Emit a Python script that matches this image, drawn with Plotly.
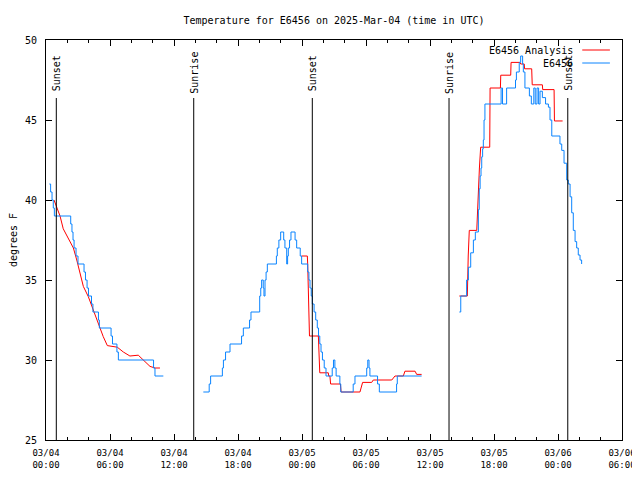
import plotly.graph_objects as go

YEAR = "2025-"

# ---- Observations (E6456), step data, three segments ----
obs_seg1_times = ["03-04 00:19", "03-04 00:26", "03-04 00:34", "03-04 00:41", "03-04 00:47", "03-04 02:19",
                  "03-04 02:26", "03-04 02:32", "03-04 02:38", "03-04 02:49", "03-04 03:00", "03-04 03:34",
                  "03-04 03:42", "03-04 03:51", "03-04 03:59", "03-04 04:16", "03-04 04:24", "03-04 04:55",
                  "03-04 05:00", "03-04 06:06", "03-04 06:14", "03-04 06:39", "03-04 06:47", "03-04 10:05",
                  "03-04 10:13", "03-04 11:00"]
obs_seg1_temps = [41, 40.5, 40, 39.5, 39, 38.5, 38, 37.5, 37, 36.5, 36, 35.5, 35, 34.5, 34, 33.5, 33, 32.5,
                  32, 31.5, 31, 30.5, 30, 29.5, 29, 29]

obs_seg2_times = ["03-04 14:45", "03-04 15:18", "03-04 15:26", "03-04 16:32", "03-04 16:38", "03-04 16:50",
                  "03-04 17:15", "03-04 18:20", "03-04 18:30", "03-04 19:05", "03-04 19:13", "03-04 20:02",
                  "03-04 20:08", "03-04 20:13", "03-04 20:22", "03-04 20:26", "03-04 20:32", "03-04 20:38",
                  "03-04 20:45", "03-04 21:36", "03-04 21:41", "03-04 21:50", "03-04 22:00", "03-04 22:17",
                  "03-04 22:24", "03-04 22:34", "03-04 22:39", "03-04 22:43", "03-04 22:50", "03-04 22:58",
                  "03-04 23:21", "03-04 23:30", "03-04 23:50", "03-04 23:58", "03-05 00:32", "03-05 00:39",
                  "03-05 00:45", "03-05 00:52", "03-05 00:58", "03-05 01:08", "03-05 01:17", "03-05 01:26",
                  "03-05 01:33", "03-05 01:40", "03-05 01:47", "03-05 01:55", "03-05 02:05", "03-05 02:15",
                  "03-05 02:50", "03-05 02:57", "03-05 03:05", "03-05 03:12", "03-05 03:33", "03-05 03:38",
                  "03-05 04:48", "03-05 04:58", "03-05 06:04", "03-05 06:10", "03-05 06:17", "03-05 06:22",
                  "03-05 07:05", "03-05 07:15", "03-05 08:52", "03-05 08:56", "03-05 11:13"]
obs_seg2_temps = [28, 28.5, 29, 29.5, 30, 30.5, 31, 31.5, 32, 32.5, 33, 34, 34.5, 35, 34.5, 34, 35, 35.5,
                  36, 36.5, 37, 37.5, 38, 37.5, 37, 36, 36.5, 37, 37.5, 38, 37.5, 37, 36.5, 36, 35.5, 35,
                  34.5, 34, 33.5, 33, 32.5, 32, 31.5, 31, 30.5, 30, 29.5, 29, 29.5, 30, 29.5, 29, 28.5, 28,
                  28.5, 29, 29.5, 30, 29.5, 29, 28.5, 28, 28.5, 29, 29]

obs_seg3_times = ["03-05 14:45", "03-05 14:53", "03-05 15:26", "03-05 15:36", "03-05 15:49", "03-05 16:04",
                  "03-05 16:15", "03-05 16:32", "03-05 16:37", "03-05 16:42", "03-05 16:47", "03-05 16:51",
                  "03-05 16:56", "03-05 17:00", "03-05 17:04", "03-05 17:09", "03-05 18:40", "03-05 18:48",
                  "03-05 19:11", "03-05 20:01", "03-05 20:06", "03-05 20:22", "03-05 20:30", "03-05 20:41",
                  "03-05 20:45", "03-05 20:54", "03-05 21:19", "03-05 21:30", "03-05 21:44", "03-05 21:52",
                  "03-05 22:02", "03-05 22:11", "03-05 22:19", "03-05 22:32", "03-05 22:50", "03-05 23:06",
                  "03-05 23:15", "03-05 23:25", "03-06 00:11", "03-06 00:21", "03-06 00:34", "03-06 00:49",
                  "03-06 00:58", "03-06 01:08", "03-06 01:17", "03-06 01:26", "03-06 01:36", "03-06 01:45",
                  "03-06 01:54", "03-06 02:04", "03-06 02:13"]
obs_seg3_temps = [33, 34, 35, 35.8, 36.7, 37.5, 38, 39.4, 40.7, 41.5, 42, 42.7, 43.2, 43.75, 45, 46, 47, 46,
                  47, 47.5, 48, 48.6, 49, 48.5, 48, 47, 46.5, 46, 47, 46, 47, 46, 46.8, 46.4, 46, 45.8, 45,
                  44, 43.5, 43.1, 42.3, 41.25, 41, 40.2, 39.2, 38.1, 37.4, 37, 36.56, 36.25, 36]

# ---- Analysis (E6456 Analysis), three segments ----
ana_seg1_times = ["03-04 00:45", "03-04 01:02", "03-04 01:19", "03-04 01:37", "03-04 02:05", "03-04 02:34",
                  "03-04 02:53", "03-04 03:11", "03-04 03:30", "03-04 03:58", "03-04 04:26", "03-04 04:54",
                  "03-04 05:22", "03-04 05:45", "03-04 06:41", "03-04 07:15", "03-04 07:52", "03-04 08:39",
                  "03-04 09:17", "03-04 09:45", "03-04 10:13", "03-04 10:41"]
ana_seg1_temps = [40, 39.5, 39, 38.2, 37.6, 37.0, 36.25, 35.4, 34.6, 33.96, 33.1, 32.2, 31.46, 30.9, 30.8,
                  30.5, 30.25, 30.3, 29.9, 29.6, 29.5, 29.5]

ana_seg2_times = ["03-04 23:58", "03-05 00:30", "03-05 00:32", "03-05 00:35", "03-05 00:39", "03-05 00:42",
                  "03-05 01:32", "03-05 01:36", "03-05 01:40", "03-05 02:28", "03-05 02:30", "03-05 02:37",
                  "03-05 02:41", "03-05 03:36", "03-05 03:40", "03-05 05:26", "03-05 05:41", "03-05 06:32",
                  "03-05 06:41", "03-05 08:25", "03-05 08:43", "03-05 09:30", "03-05 09:39", "03-05 10:36",
                  "03-05 10:45", "03-05 11:13"]
ana_seg2_temps = [36.5, 36.5, 36.0, 34.0, 32.0, 31.5, 31.5, 30.5, 29.2, 29.2, 29.0, 29.0, 28.5, 28.5, 28.0,
                  28.0, 28.6, 28.6, 28.75, 28.75, 29.0, 29.0, 29.3, 29.3, 29.1, 29.1]

ana_seg3_times = ["03-05 14:45", "03-05 15:30", "03-05 15:35", "03-05 15:41", "03-05 16:23", "03-05 16:26",
                  "03-05 16:30", "03-05 16:38", "03-05 16:45", "03-05 17:36", "03-05 17:38", "03-05 18:36",
                  "03-05 18:38", "03-05 19:34", "03-05 19:36", "03-05 20:26", "03-05 20:30", "03-05 20:50",
                  "03-05 20:52", "03-05 21:32", "03-05 21:35", "03-05 22:32", "03-05 22:34", "03-05 23:38",
                  "03-05 23:40", "03-06 00:26"]
ana_seg3_temps = [34, 34, 36.5, 38.1, 38.1, 39, 40.7, 42, 43.3, 43.3, 47, 47, 47.8, 47.8, 48.6, 48.6, 48.5,
                  48.5, 48.2, 48.2, 47.2, 47.2, 46.9, 46.9, 44.94, 44.94]

# ---- Sun events ----
sun_event_times = ["03-04 00:58", "03-04 13:51", "03-05 00:58", "03-05 13:47", "03-06 00:55"]
sun_event_labels = ["Sunset", "Sunrise", "Sunset", "Sunrise", "Sunset"]

x_range = ["03-04 00:00", "03-06 06:00"]
title_text = "Temperature for E6456 on 2025-Mar-04 (time in UTC)"
y_title = "degrees F"
series_names = ["E6456 Analysis", "E6456"]
series_colors = ["#ff0000", "#0a84ff"]


def ts(lst):
    return [YEAR + s for s in lst]


def join(*pairs):
    xs, ys = [], []
    for i, (t, v) in enumerate(pairs):
        if i:
            xs.append(None)
            ys.append(None)
        xs += ts(t)
        ys += list(v)
    return xs, ys


ax, ay = join((ana_seg1_times, ana_seg1_temps), (ana_seg2_times, ana_seg2_temps), (ana_seg3_times, ana_seg3_temps))
ox, oy = join((obs_seg1_times, obs_seg1_temps), (obs_seg2_times, obs_seg2_temps), (obs_seg3_times, obs_seg3_temps))

MONO = "DejaVu Sans Mono"
FIG_W, FIG_H = 632, 472   # page body has an 8px margin

fig = go.Figure()
fig.add_trace(go.Scatter(x=ax, y=ay, mode="lines", name=series_names[0],
                         line=dict(color=series_colors[0], width=1), connectgaps=False))
fig.add_trace(go.Scatter(x=ox, y=oy, mode="lines", name=series_names[1],
                         line=dict(color=series_colors[1], width=1, shape="hv"), connectgaps=False))

shapes = []
annotations = []
for t, lab in zip(ts(sun_event_times), sun_event_labels):
    shapes.append(dict(type="line", xref="x", yref="paper", x0=t, x1=t, y0=0, y1=0.855,
                       line=dict(color="black", width=1)))
    annotations.append(dict(x=t, y=0.9175, xref="x", yref="paper", text=lab, textangle=-90,
                            showarrow=False, xanchor="center", yanchor="middle",
                            font=dict(family=MONO, size=10, color="black")))

# manual gnuplot-style key (text left, sample right)
key_rows = [0.975, 0.9425]
for name, color, yk in zip(series_names, series_colors, key_rows):
    annotations.append(dict(x=0.918, y=yk, xref="paper", yref="paper", text=name, showarrow=False,
                            xanchor="right", yanchor="middle", font=dict(family=MONO, size=10, color="black")))
    shapes.append(dict(type="line", xref="paper", yref="paper", x0=0.931, x1=0.979, y0=yk, y1=yk,
                       line=dict(color=color, width=1)))

fig.update_layout(
    width=FIG_W, height=FIG_H,
    margin=dict(l=38, r=18, t=32, b=40, autoexpand=False),
    plot_bgcolor="white", paper_bgcolor="white",
    showlegend=False,
    title=dict(text=title_text, x=0.5, xref="paper", y=1 - 12 / FIG_H, yanchor="middle",
               font=dict(family=MONO, size=10, color="black"), automargin=False),
    shapes=shapes, annotations=annotations,
    font=dict(family=MONO, size=10, color="black"),
)
fig.update_xaxes(
    type="date", range=ts(x_range), tick0=YEAR + "03-04 00:00", dtick=6 * 3600000,
    tickformat="%m/%d<br>%H:%M", ticks="inside", ticklen=6, tickcolor="black",
    showline=True, linecolor="black", linewidth=1, mirror="allticks", showgrid=False, zeroline=False,
    tickfont=dict(family=MONO, size=9, color="black"), automargin=False, ticklabelstandoff=4,
    minor=dict(dtick=2 * 3600000, ticks="inside", ticklen=3, tickcolor="black", showgrid=False),
)
fig.update_yaxes(
    range=[25, 50], dtick=5, tick0=25, ticks="inside", ticklen=6, tickcolor="black",
    showline=True, linecolor="black", linewidth=1, mirror="allticks", showgrid=False, zeroline=False,
    tickfont=dict(family=MONO, size=10, color="black"), ticklabelstandoff=6, automargin=False,
    title=dict(text=y_title, font=dict(family=MONO, size=10, color="black"), standoff=8),
)

fig.write_html("out.html")
